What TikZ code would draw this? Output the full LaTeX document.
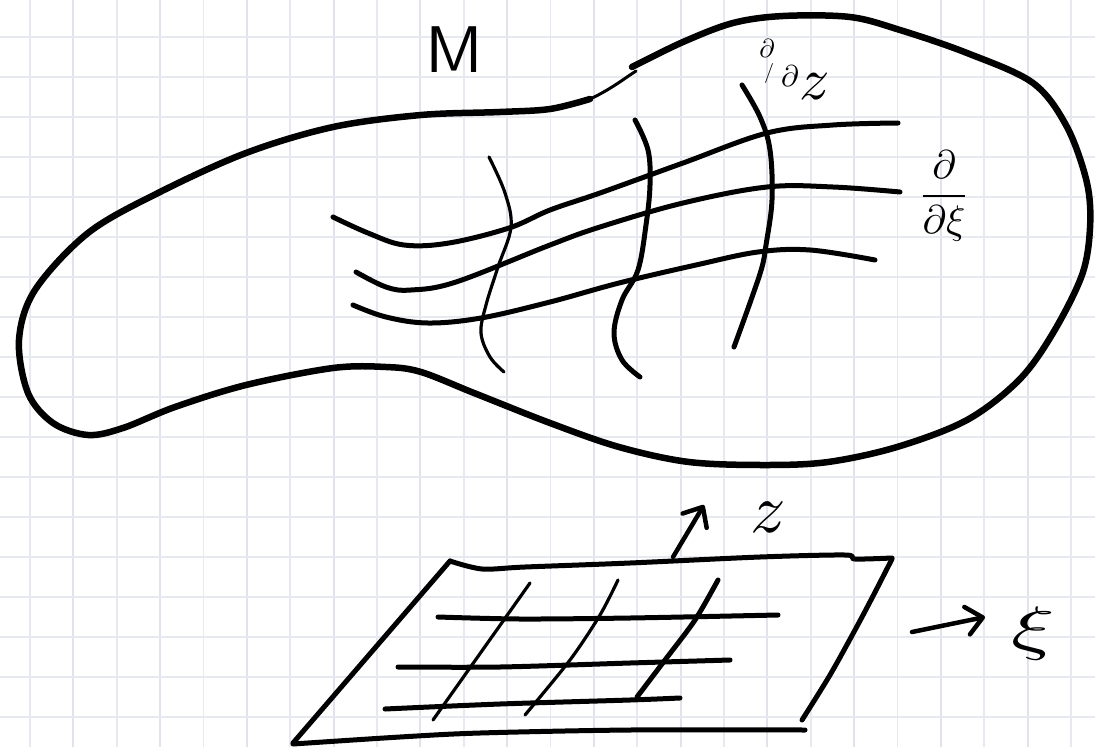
\documentclass[tikz,border=0pt]{standalone}
\usetikzlibrary{arrows.meta}
\definecolor{gridc}{HTML}{E7E9F0}
\definecolor{gridd}{HTML}{E0E3EB}
\begin{document}
\begin{tikzpicture}[x=1pt,y=-1pt,
  gridline/.style={draw=gridc, line width=1.8pt},
  gridline2/.style={draw=gridd, line width=2pt},
  ink/.style={line width=5pt, line cap=round, line join=round},
  thickink/.style={line width=6.5pt, line cap=round, line join=round},
  thinink/.style={line width=3.2pt, line cap=round, line join=round},
  handarrow/.style={line width=4.5pt, line cap=round, -{Straight Barb[length=16pt,width=28pt,round]}},
  lbl/.style={inner sep=0pt, transform shape}]
\fill[white] (0,0) rectangle (1095,747);
\useasboundingbox (0,0) rectangle (1095,747);
% grid paper
\foreach \k in {0,2,...,24} \draw[gridline] ({30+43.375*\k},0) -- ({30+43.375*\k},747);
\foreach \k in {1,3,...,23} \draw[gridline2] ({30+43.375*\k},0) -- ({30+43.375*\k},747);
\foreach \k in {0,...,17} \draw[gridline] (0,{36.7+40*\k}) -- (1095,{36.7+40*\k});
% manifold outline
\draw[thickink] plot[smooth, tension=0.55] coordinates {(632,67) (683,42) (733,23) (783,16) (850,17) (900,30) (967,53) (1033,83) (1067,127) (1087,183) (1090,228) (1082,275) (1053,333) (1019,380) (967,420) (897,447) (828,462) (765,465) (689,462) (619,447) (550,423) (474,393) (421,372) (386,367) (333,368) (246,385) (175,407) (123,428) (88,435) (53,423) (28,393) (19,340) (35,290) (88,233) (158,193) (246,153) (333,127) (421,115) (500,112) (550,109) (590,99)};
\draw[line width=3pt, line cap=round] (588,100) .. controls (610,90) and (625,78) .. (636,71);
% xi coordinate curves
\draw[ink] plot[smooth, tension=0.6] coordinates {(333,217) (368,233) (404,245) (449,243) (509,228) (550,210) (600,193) (683,163) (767,133) (833,125) (898,123)};
\draw[ink] plot[smooth, tension=0.6] coordinates {(356,272) (386,287) (411,290) (456,282) (550,245) (600,227) (683,203) (767,187) (833,187) (900,192)};
\draw[ink] plot[smooth, tension=0.6] coordinates {(353,305) (386,317) (428,323) (481,318) (550,302) (619,283) (696,265) (758,252) (810,250) (875,260)};
% z coordinate curves
\draw[thinink] plot[smooth, tension=0.6] coordinates {(489,157) (505,193) (511,227) (498,267) (486,305) (481,333) (490,357) (504,372)};
\draw[ink] plot[smooth, tension=0.6] coordinates {(635,120) (648,150) (650,185) (646,225) (638,270) (622,300) (614,333) (622,360) (640,377)};
\draw[ink] plot[smooth, tension=0.6] coordinates {(742,85) (760,117) (770,150) (772,200) (766,245) (762,267) (751,300) (734,347)};
% labels on manifold
\node[lbl, scale=6.6] (M) at (454,50) {\sffamily M};
\node[lbl, scale=2.6] (dz1) at (767,48) {$\partial$};
\node[lbl, scale=2.0] (dz2) at (769,73) {$/$};
\node[lbl, scale=3] (dz3) at (790,76) {$\partial$};
\node[lbl, scale=6] (dz4) at (815,87) {$z$};
\node[lbl, scale=4] (dxi) at (944,196) {$\displaystyle\frac{\partial}{\partial\xi}$};
% chart (parameter domain)
\draw[ink] plot[smooth, tension=0.5] coordinates {(450,561) (482,569) (525,567) (630,563) (760,557) (845,555) (855,559) (892,558)};
\draw[ink] (450,561) -- (293,743);
\draw[ink] plot[smooth, tension=0.5] coordinates {(293,744) (400,737) (480,733) (630,730) (805,730)};
\draw[ink] plot[smooth, tension=0.5] coordinates {(892,559) (872,598) (855,630) (830,675) (802,720)};
\draw[ink] plot[smooth, tension=0.5] coordinates {(438,617) (520,619) (630,618) (778,615)};
\draw[ink] plot[smooth, tension=0.5] coordinates {(398,667) (500,667) (630,663) (730,660)};
\draw[ink] plot[smooth, tension=0.5] coordinates {(385,709) (500,704) (630,700) (680,698)};
\draw[thinink] (530,583) -- (433,720);
\draw[thinink] plot[smooth, tension=0.5] coordinates {(618,580) (600,615) (570,660) (525,715)};
\draw[ink] plot[smooth, tension=0.5] coordinates {(718,580) (695,620) (665,660) (637,697)};
% axis arrows and labels
\coordinate (zs) at (673,557);
\coordinate (ze) at (704,505);
\draw[handarrow] (zs) -- (ze);
\node[lbl, scale=7] (zl) at (768,517) {$z$};
\coordinate (xs) at (912,632);
\coordinate (xe) at (985,617);
\draw[handarrow] (xs) -- (xe);
\node[lbl, xscale=9, yscale=6] (xil) at (1033,633) {$\xi$};
\end{tikzpicture}
\end{document}
